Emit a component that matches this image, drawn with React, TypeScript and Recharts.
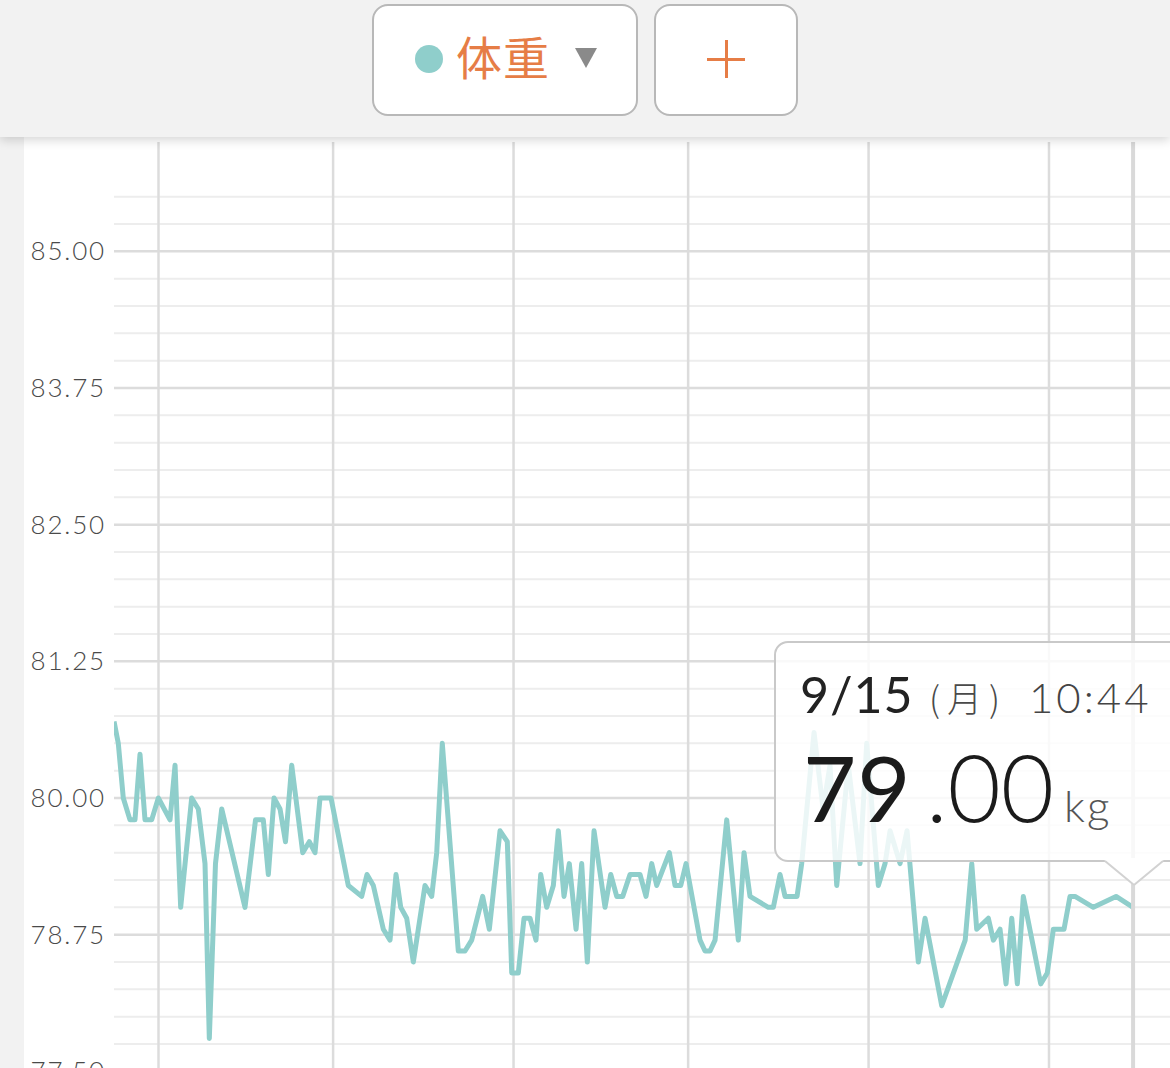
import React from 'react';
import { LineChart, Line, XAxis, YAxis, ReferenceLine, Tooltip } from 'recharts';

// days since 2025-04-01 00:00 (fractional)
const days = [
  -7.64, -6.91, -6.05, -4.9, -4.04, -3.18, -2.32, -1.17, -0.03, 1.98, 2.84, 3.81, 5.7, 6.84, 7.99, 8.73,
  9.79, 10.86, 14.86, 16.67, 18.01, 18.87, 19.85, 20.88, 21.82, 22.89, 24.78, 25.91, 26.89, 27.75, 29.64,
  32.61, 34.91, 35.82, 36.91, 38.63, 39.78, 40.81, 41.62, 42.65, 43.78, 45.79, 46.94, 47.8, 48.76, 51.51,
  52.66, 53.81, 55.7, 56.84, 58.68, 59.93, 60.69, 61.82, 62.8, 63.83, 64.86, 65.67, 66.7, 67.84, 68.69,
  69.67, 70.58, 71.74, 72.71, 73.68, 74.83, 76.72, 77.7, 78.73, 79.76, 81.01, 82.73, 83.76, 84.74, 85.6,
  87.77, 88.75, 89.73, 90.64, 93.04, 93.9, 94.76, 95.62, 97.63, 99.62, 100.6, 101.63, 104.78, 105.64,
  106.79, 107.65, 109.71, 110.51, 112.63, 114.18, 115.38, 116.53, 118.52, 120.53, 121.68, 123.68, 124.83,
  125.69, 127.41, 128.61, 130.55, 131.7, 134.57, 138.6, 139.73, 140.58, 142.58, 143.44, 144.59, 145.62,
  146.6, 147.56, 148.59, 151.58, 152.71, 153.75, 155.58, 156.61, 157.47, 160.62, 164.52, 167.447,
];

// weight (kg)
const weights = [
  80.7, 80.5, 80.0, 79.8, 79.8, 80.4, 79.8, 79.8, 80.0, 79.8, 80.3, 79.0, 80.0, 79.9, 79.4, 77.8,
  79.4, 79.9, 79.0, 79.8, 79.8, 79.3, 80.0, 79.9, 79.6, 80.3, 79.5, 79.6, 79.5, 80.0, 80.0,
  79.2, 79.1, 79.3, 79.2, 78.8, 78.7, 79.3, 79.0, 78.9, 78.5, 79.2, 79.1, 79.5, 80.5, 78.6,
  78.6, 78.7, 79.1, 78.8, 79.7, 79.6, 78.4, 78.4, 78.9, 78.9, 78.7, 79.3, 79.0, 79.2, 79.7,
  79.1, 79.4, 78.8, 79.4, 78.5, 79.7, 79.0, 79.3, 79.1, 79.1, 79.3, 79.3, 79.1, 79.4, 79.2,
  79.5, 79.2, 79.2, 79.4, 78.7, 78.6, 78.6, 78.7, 79.8, 78.7, 79.5, 79.1, 79.0, 79.0,
  79.3, 79.1, 79.1, 79.4, 80.6, 79.9, 80.3, 79.2, 80.3, 79.4, 80.5, 79.2, 79.4,
  79.7, 79.4, 79.7, 78.5, 78.9, 78.1, 78.7, 79.4, 78.8, 78.9, 78.7, 78.8, 78.3,
  78.9, 78.3, 79.1, 78.3, 78.4, 78.8, 78.8, 79.1, 79.1, 79.0, 79.1, 79.0,
];

const yTicks = [77.5, 78.75, 80, 81.25, 82.5, 83.75, 85];
const yGridMinor = [
  77.0, 77.25, 77.75, 78.0, 78.25, 78.5, 79.0, 79.25, 79.5, 79.75, 80.25, 80.5, 80.75, 81.0,
  81.5, 81.75, 82.0, 82.25, 82.75, 83.0, 83.25, 83.5, 84.0, 84.25, 84.5, 84.75, 85.25, 85.5,
];
// month starts (days since 4/1): 4/1, 5/1, 6/1, 7/1, 8/1, 9/1
const monthTicks = [0, 30, 61, 91, 122, 153];
const monthLabels = ['4/1', '5/1', '6/1', '7/1', '8/1', '9/1'];

const BASE_UTC = Date.UTC(2025, 3, 1);
const WEEKDAYS = ['日', '月', '火', '水', '木', '金', '土'];

const data = days.map((d, i) => ({ day: d, weight: weights[i] }));

const TEAL = '#8fcecb';
const ORANGE = '#e67d46';
const NUM_FONT = 'Lato, "Noto Sans", sans-serif';
const JP_FONT = '"Noto Sans CJK JP", "Noto Sans", sans-serif';

const YTick = (props: any) => {
  const { x, y, payload } = props;
  return (
    <text
      x={x}
      y={y}
      dy={9}
      textAnchor="end"
      fontFamily={NUM_FONT}
      fontWeight={300}
      fontSize={26}
      letterSpacing={1.8}
      fill="#4a4a4a"
    >
      {Number(payload.value).toFixed(2)}
    </text>
  );
};

const TooltipBox = (props: any) => {
  const { active, payload } = props;
  if (!active || !payload || !payload.length) return null;
  const p = payload[0].payload;
  const totalMin = Math.round(p.day * 1440);
  const dt = new Date(BASE_UTC + totalMin * 60000);
  const md = `${dt.getUTCMonth() + 1}/${dt.getUTCDate()}`;
  const wd = `(${WEEKDAYS[dt.getUTCDay()]})`;
  const tm = `${dt.getUTCHours()}:${String(dt.getUTCMinutes()).padStart(2, '0')}`;
  const [ip, fp] = Number(p.weight).toFixed(2).split('.');
  return (
    <div style={{ position: 'relative', width: 430, height: 221 }}>
      <div
        style={{
          position: 'absolute',
          left: 0,
          top: 0,
          width: 430,
          height: 221,
          boxSizing: 'border-box',
          border: '2px solid #c9c9c9',
          borderRadius: 14,
          background: 'rgba(255,255,255,0.82)',
        }}
      />
      <svg width={430} height={250} style={{ position: 'absolute', left: 0, top: 0, overflow: 'visible' }}>
        <polygon points="328,217 360,245 392,217" fill="#ffffff" />
        <polyline points="331,220 360,244 389,220" fill="none" stroke="#d2d2d2" strokeWidth={2} />
        <text x={26} y={72} fontFamily={NUM_FONT} fontSize={50} fontWeight={400} fill="#222" letterSpacing={1}>
          {md}
        </text>
        <text x={155} y={71} fontFamily={JP_FONT} fontSize={35} fontWeight={300} fill="#4a4a4a" letterSpacing={7}>
          {wd}
        </text>
        <text x={255} y={72} fontFamily={NUM_FONT} fontSize={42} fontWeight={300} fill="#444" letterSpacing={3}>
          {tm}
        </text>
        <text x={29} y={181} fontFamily={NUM_FONT} fontSize={92} fontWeight={400} fill="#1b1b1b" letterSpacing={1}>
          {ip}
        </text>
        <text x={152} y={181} fontFamily={NUM_FONT} fontSize={92} fontWeight={300} fill="#1b1b1b" letterSpacing={0}>
          {'.' + fp}
        </text>
        <text x={290} y={181} fontFamily={NUM_FONT} fontSize={44} fontWeight={300} fill="#555" letterSpacing={2}>
          kg
        </text>
      </svg>
    </div>
  );
};

const Header = () => (
  <div
    style={{
      position: 'absolute',
      left: 0,
      top: 0,
      width: 1170,
      height: 137,
      background: '#f2f2f2',
      boxShadow: '0 3px 10px rgba(0,0,0,0.17)',
      zIndex: 5,
    }}
  >
    <div
      style={{
        position: 'absolute',
        left: 372,
        top: 4,
        width: 266,
        height: 112,
        boxSizing: 'border-box',
        border: '2px solid #b8b8b8',
        borderRadius: 16,
        background: '#fff',
      }}
    >
      <div
        style={{
          position: 'absolute',
          left: 41,
          top: 39,
          width: 28,
          height: 28,
          borderRadius: '50%',
          background: TEAL,
        }}
      />
      <div
        style={{
          position: 'absolute',
          left: 82,
          top: 24,
          fontFamily: JP_FONT,
          fontSize: 46,
          lineHeight: '50px',
          color: ORANGE,
          letterSpacing: 1,
        }}
      >
        体重
      </div>
      <div
        style={{
          position: 'absolute',
          left: 201,
          top: 42,
          width: 0,
          height: 0,
          borderLeft: '11.5px solid transparent',
          borderRight: '11.5px solid transparent',
          borderTop: '20px solid #8a8a8a',
        }}
      />
    </div>
    <div
      style={{
        position: 'absolute',
        left: 654,
        top: 4,
        width: 144,
        height: 112,
        boxSizing: 'border-box',
        border: '2px solid #b8b8b8',
        borderRadius: 16,
        background: '#fff',
      }}
    >
      <div style={{ position: 'absolute', left: 51, top: 52, width: 38, height: 3, background: ORANGE }} />
      <div style={{ position: 'absolute', left: 68.5, top: 34, width: 3, height: 38, background: ORANGE }} />
    </div>
  </div>
);

export default function App() {
  return (
    <div
      style={{
        position: 'absolute',
        left: 0,
        top: 0,
        width: 1170,
        height: 1068,
        overflow: 'hidden',
        background: '#f2f2f2',
      }}
    >
      <Header />
      <div
        style={{
          position: 'absolute',
          left: 24,
          top: 137,
          width: 1146,
          height: 931,
          background: '#fff',
        }}
      >
        <LineChart
          width={1146}
          height={989}
          data={data}
          margin={{ top: 5, right: 0, bottom: 0, left: 0 }}
        >
          <XAxis
            dataKey="day"
            type="number"
            domain={[-7.646, 173.79]}
            allowDataOverflow
            ticks={monthTicks}
            tickFormatter={(v: number) => monthLabels[monthTicks.indexOf(v)] ?? ''}
            hide
          />
          <YAxis
            type="number"
            domain={[77, 86]}
            allowDataOverflow
            ticks={yTicks}
            interval={0}
            width={90}
            axisLine={false}
            tickLine={false}
            tickSize={0}
            tickMargin={8}
            tick={<YTick />}
          />
          {yGridMinor.map((v) => (
            <ReferenceLine key={'m' + v} y={v} stroke="#ededed" strokeWidth={2} />
          ))}
          {yTicks.map((v) => (
            <ReferenceLine key={'M' + v} y={v} stroke="#dcdcdc" strokeWidth={2.5} />
          ))}
          {monthTicks.map((v) => (
            <ReferenceLine key={'x' + v} x={v} stroke="#dcdcdc" strokeWidth={2.5} />
          ))}
          <Line
            type="linear"
            dataKey="weight"
            stroke={TEAL}
            strokeWidth={5}
            strokeLinejoin="round"
            dot={false}
            activeDot={false}
            isAnimationActive={false}
          />
          <Tooltip
            active
            defaultIndex={data.length - 1}
            position={{ x: 750, y: 504 }}
            allowEscapeViewBox={{ x: true, y: true }}
            isAnimationActive={false}
            cursor={{ stroke: '#d9d9d9', strokeWidth: 4 }}
            content={<TooltipBox />}
            wrapperStyle={{ outline: 'none', zIndex: 3 }}
          />
        </LineChart>
      </div>
    </div>
  );
}
